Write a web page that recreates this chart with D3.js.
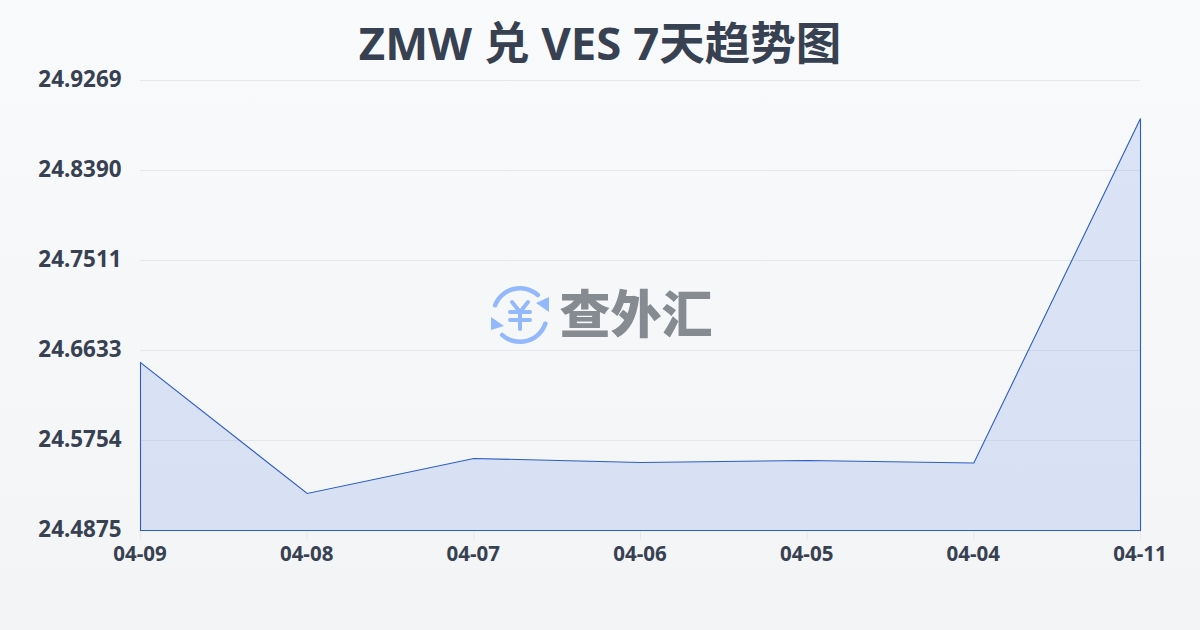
<!DOCTYPE html>
<html><head><meta charset="utf-8">
<script src="https://cdn.jsdelivr.net/npm/d3@7/dist/d3.min.js"></script>
<style>html,body{margin:0;padding:0;background:#f5f7fa}svg{display:block}</style>
</head><body><div id="chart"></div>
<script>
const titleText = "ZMW 兑 VES 7天趋势图";
const dates = ["04-09","04-08","04-07","04-06","04-05","04-04","04-11"];
const rates = [24.6515,24.5236,24.5578,24.5539,24.5559,24.5534,24.8898];
const yTicks = [24.4875,24.5754,24.6633,24.7511,24.8390,24.9269];
const W=1200,H=630,FONT='"Noto Sans","Noto Sans CJK SC",sans-serif';
const svg=d3.select("#chart").append("svg").attr("width",W).attr("height",H);
const defs=svg.append("defs");
const bg=defs.append("linearGradient").attr("id","bg").attr("x1",0).attr("y1",0).attr("x2",0).attr("y2",1);
bg.append("stop").attr("offset",0).attr("stop-color","#f8fafc");
bg.append("stop").attr("offset",1).attr("stop-color","#f3f4f6");
svg.append("rect").attr("width",W).attr("height",H).attr("fill","url(#bg)");
const x=d3.scalePoint().domain(dates).range([140,1140]);
const y=d3.scaleLinear().domain([24.4875,24.9269]).range([530,80]);
svg.append("text").attr("x",600).attr("y",60).attr("text-anchor","middle")
 .attr("font-family",FONT).attr("font-weight",700).attr("font-size",45.5).attr("fill","#374151").text(titleText);
svg.append("g").selectAll("line").data(yTicks).join("line")
 .attr("x1",140).attr("x2",1140).attr("y1",d=>y(d)+.5).attr("y2",d=>y(d)+.5)
 .attr("stroke","#e5e7eb").attr("stroke-width",1);
svg.append("g").selectAll("text").data(yTicks).join("text")
 .attr("x",121.5).attr("y",d=>y(d)+7).attr("text-anchor","end")
 .attr("font-family",FONT).attr("font-weight",700).attr("font-size",22.4).attr("fill","#374151")
 .text(d=>d.toFixed(4));
svg.append("g").selectAll("line").data(dates).join("line")
 .attr("x1",d=>x(d)+.5).attr("x2",d=>x(d)+.5).attr("y1",530).attr("y2",540)
 .attr("stroke","#e5e7eb");
svg.append("g").selectAll("text").data(dates).join("text")
 .attr("x",d=>x(d)).attr("y",561).attr("text-anchor","middle")
 .attr("font-family",FONT).attr("font-weight",700).attr("font-size",20.5).attr("fill","#374151").text(d=>d);
const pts=dates.map((d,i)=>[x(d),y(rates[i])]);
const closed=[[140,y(24.4875)],...pts,[1140,y(24.4875)]];
svg.append("path").attr("d",d3.line()(closed)+"Z").attr("transform","translate(.5,.5)")
 .attr("fill","#3a6bdf").attr("fill-opacity",.15).attr("stroke","#2c5cc5").attr("stroke-width",1.1);
// watermark
const wm=svg.append("g").attr("transform","translate(520,315)");
const c="#93b8fb";
const arc=d3.arc().innerRadius(24.5).outerRadius(29).cornerRadius(2);
wm.append("path").attr("d",arc({startAngle:-1.28,endAngle:0.81})).attr("fill",c);
wm.append("path").attr("d",arc({startAngle:1.82,endAngle:3.95})).attr("fill",c);
wm.append("path").attr("d",d3.line()([[29,-18],[29,-3],[16,-12]])+"Z").attr("fill",c);
wm.append("path").attr("d",d3.line()([[-29,2],[-29,15],[-16,11]])+"Z").attr("fill",c);
wm.append("path").attr("d","M-8,-13L0,-3L8,-13M-10,-3H10M-10,5H10M0,-3V14")
 .attr("fill","none").attr("stroke",c).attr("stroke-width",4).attr("stroke-linecap","round");
svg.append("text").attr("x",636).attr("y",333).attr("text-anchor","middle").attr("font-family",'"Noto Sans CJK SC",sans-serif')
 .attr("font-weight",900).attr("font-size",51).attr("fill","#868a91").text("查外汇");
</script></body></html>
